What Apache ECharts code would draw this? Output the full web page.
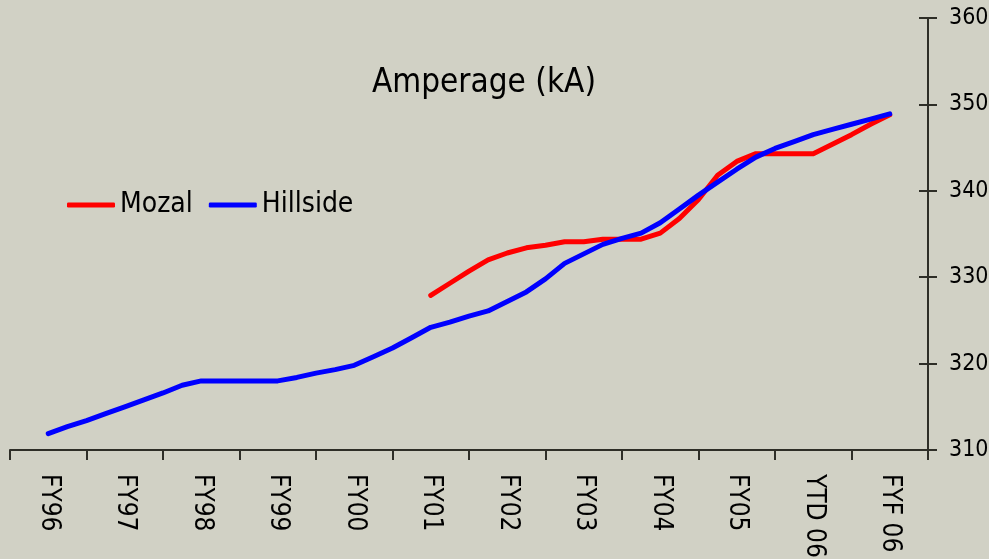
<!DOCTYPE html>
<html>
<head>
<meta charset="utf-8">
<script src="https://cdn.jsdelivr.net/npm/echarts@6/dist/echarts.min.js"></script>
<style>
    html, body {margin: 0; padding: 0; background: #d1d1c5;}
    #chart {width: 989px; height: 559px;}
</style>
</head>
<body>
<div id="chart"></div>
<script>
// fiscal year labels on the x axis
var years = ['FY96', 'FY97', 'FY98', 'FY99', 'FY00', 'FY01', 'FY02', 'FY03', 'FY04', 'FY05', 'YTD 06', 'FYF 06'];
// quarterly readings, quarter 0 = FY96 ... quarter 44 = FYF 06
var hillside = [311.9, 312.7, 313.4, 314.2, 315.0, 315.8, 316.6, 317.5, 318.0, 318.0,
    318.0, 318.0, 318.0, 318.4, 318.9, 319.3, 319.8, 320.8, 321.8, 323.0,
    324.2, 324.8, 325.5, 326.1, 327.2, 328.3, 329.8, 331.6, 332.7, 333.8,
    334.5, 335.1, 336.3, 337.9, 339.5, 341.0, 342.5, 343.9, 344.9, 345.7,
    346.5, 347.1, 347.7, 348.3, 348.9];
var mozal = [null, null, null, null, null, null, null, null, null, null,
    null, null, null, null, null, null, null, null, null, null,
    327.9, 329.3, 330.7, 332.0, 332.8, 333.4, 333.7, 334.1, 334.1, 334.4,
    334.4, 334.4, 335.1, 336.8, 339.0, 341.8, 343.4, 344.3, 344.3, 344.3,
    344.3, 345.4, 346.5, 347.7, 348.8];
var yTicks = {min: 310, max: 360, step: 10};

var axisColor = '#2e2e27';
var fontName = '"Liberation Sans Narrow", "DejaVu Sans Condensed", sans-serif';

function toPairs(arr) {
    var out = [];
    for (var i = 0; i < arr.length; i++) {
        out.push([i, arr[i]]);
    }
    return out;
}

var chart = echarts.init(document.getElementById('chart'));
var option = {
    backgroundColor: '#d1d1c5',
    animation: false,
    title: {
        text: 'Amperage (kA)',
        left: 479,
        textAlign: 'center',
        top: 62,
        textStyle: {
            fontFamily: fontName,
            fontSize: 33,
            fontWeight: 'normal',
            color: '#000'
        }
    },
    legend: {
        left: 62,
        top: 186,
        itemWidth: 48,
        itemHeight: 5,
        itemGap: 16,
        icon: 'roundRect',
        data: ['Mozal', 'Hillside'],
        textStyle: {
            fontFamily: fontName,
            fontSize: 28,
            color: '#000'
        }
    },
    grid: {
        left: 10,
        right: 61,
        top: 18,
        bottom: 109,
        outerBoundsMode: 'none'
    },
    xAxis: [
        {
            type: 'category',
            boundaryGap: true,
            data: years,
            axisLine: {lineStyle: {color: axisColor, width: 2}},
            axisTick: {show: true, length: 10, lineStyle: {color: axisColor, width: 2}},
            axisLabel: {
                rotate: -90,
                margin: 24,
                fontFamily: fontName,
                fontSize: 26,
                color: '#000'
            },
            splitLine: {show: false}
        },
        {
            type: 'value',
            min: -2,
            max: 46,
            show: false
        }
    ],
    yAxis: [
        {
            type: 'value',
            position: 'right',
            min: yTicks.min,
            max: yTicks.max,
            interval: yTicks.step,
            axisLine: {show: true, onZero: false, lineStyle: {color: axisColor, width: 2}},
            axisTick: {show: true, length: 9, lineStyle: {color: axisColor, width: 2}},
            axisLabel: {
                margin: 21,
                fontFamily: fontName,
                fontSize: 23,
                color: '#000'
            },
            splitLine: {show: false}
        },
        {
            type: 'value',
            position: 'right',
            offset: 0,
            min: yTicks.min,
            max: yTicks.max,
            interval: yTicks.step,
            axisLine: {show: false, onZero: false},
            axisTick: {show: true, inside: true, length: 9, lineStyle: {color: axisColor, width: 2}},
            axisLabel: {show: false},
            splitLine: {show: false}
        }
    ],
    series: [
        {
            name: 'Mozal',
            type: 'line',
            xAxisIndex: 1,
            yAxisIndex: 0,
            data: toPairs(mozal),
            showSymbol: false,
            symbol: 'none',
            color: '#ff0000',
            lineStyle: {width: 5, color: '#ff0000', cap: 'round', join: 'round'}
        },
        {
            name: 'Hillside',
            type: 'line',
            xAxisIndex: 1,
            yAxisIndex: 0,
            data: toPairs(hillside),
            showSymbol: false,
            symbol: 'none',
            color: '#0000ff',
            lineStyle: {width: 5, color: '#0000ff', cap: 'round', join: 'round'}
        }
    ]
};
chart.setOption(option);
</script>
</body>
</html>
